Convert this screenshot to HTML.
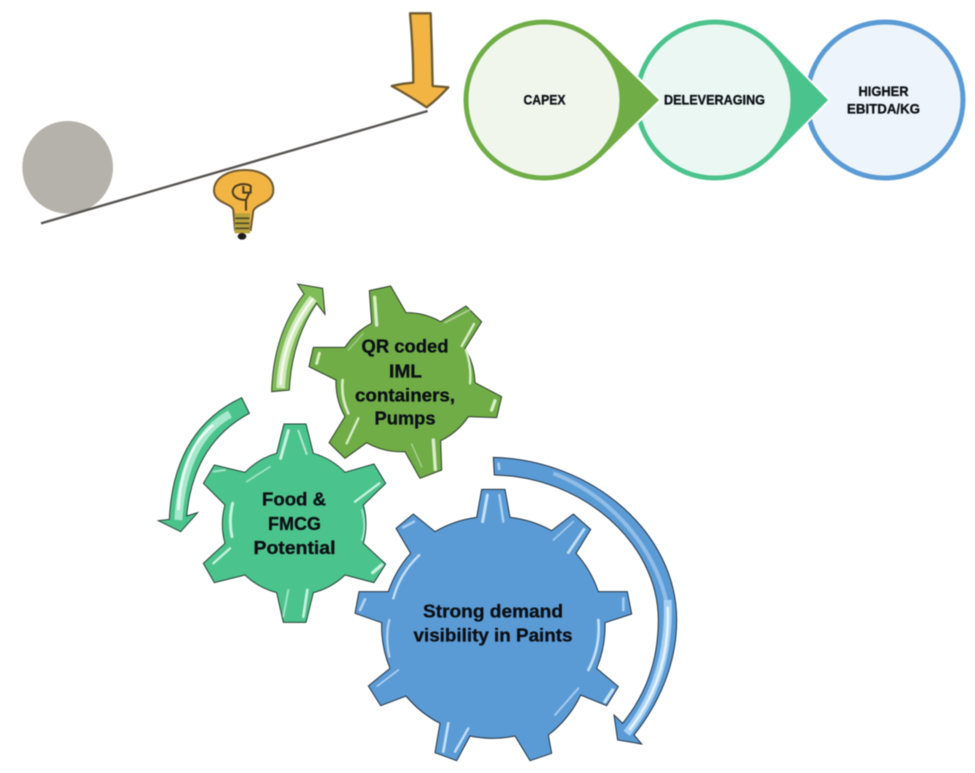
<!DOCTYPE html>
<html>
<head>
<meta charset="utf-8">
<style>
html,body{margin:0;padding:0;background:#fff;width:975px;height:773px;overflow:hidden}
svg{display:block;filter:blur(0.4px)}
text{font-family:"Liberation Sans",sans-serif;font-weight:bold;text-anchor:middle;fill:#0a0f14;stroke:#0a0f14;stroke-width:.3}
</style>
</head>
<body>
<svg width="975" height="773" viewBox="0 0 975 773" xmlns="http://www.w3.org/2000/svg">
<rect width="975" height="773" fill="#fff"/>

<!-- Seesaw illustration, drawn in 3x coordinates -->
<g transform="scale(0.33333)">
  <ellipse cx="203" cy="502" rx="136" ry="139" fill="#b5b2ab"/>
  <path d="M123,670 L1283,333" stroke="#55534f" stroke-width="7" fill="none"/>
  <path d="M1230,40 L1292,40 Q1296,150 1298,258 L1345,262 Q1310,300 1280,322 Q1225,285 1175,258 Q1210,250 1240,248 Q1240,150 1230,40 Z" fill="#f2b544" stroke="#6e5a30" stroke-width="7" stroke-linejoin="round"/>
  <path d="M700,632 C700,610 640,610 642,570 C644,530 690,510 735,510 C780,510 820,530 820,570 C820,610 770,610 760,632 L752,690 L705,690 Z" fill="#f2b544" stroke="#6e5a30" stroke-width="6"/>
  <rect x="704" y="640" width="46" height="60" fill="#b7a23c"/>
  <path d="M706,655 H748 M706,670 H748 M706,685 H748" stroke="#4a4a28" stroke-width="5"/>
  <ellipse cx="726" cy="709" rx="13" ry="10" fill="#1d1d1a"/>
  <path d="M738,632 L738,600 C700,600 690,575 705,560 C720,548 745,552 752,558 L752,578 L730,578 L730,558 M738,600 L748,578" fill="none" stroke="#4a3c20" stroke-width="6"/>
</g>

<!-- Process circles -->
<circle cx="885" cy="100" r="78" fill="#eef4fb" stroke="#5b9bd5" stroke-width="5"/>
<path d="M790,62 L828,100 L790,138" fill="none" stroke="#fff" stroke-width="4"/>
<circle cx="715" cy="100" r="78" fill="#ebf7f2" stroke="#4bc38c" stroke-width="5"/>
<path d="M771,42 L828,100 L771,158 Z" fill="#4bc38c"/>
<circle cx="715" cy="100" r="75.5" fill="#ebf7f2"/>
<path d="M620,61 L659,100 L620,139" fill="none" stroke="#fff" stroke-width="4"/>
<circle cx="544" cy="100" r="78" fill="#f0f6ec" stroke="#70ad47" stroke-width="5"/>
<path d="M600,42 L659,100 L600,158 Z" fill="#70ad47"/>
<circle cx="544" cy="100" r="75.5" fill="#f0f6ec"/>

<text x="544.5" y="104.5" font-size="14" textLength="42" lengthAdjust="spacingAndGlyphs">CAPEX</text>
<text x="714.5" y="104.5" font-size="14" textLength="101" lengthAdjust="spacingAndGlyphs">DELEVERAGING</text>
<text x="883.5" y="96" font-size="14" textLength="50" lengthAdjust="spacingAndGlyphs">HIGHER</text>
<text x="883.5" y="113.5" font-size="14" textLength="73" lengthAdjust="spacingAndGlyphs">EBITDA/KG</text>

<!-- Green and teal gears with arrows -->
<g transform="translate(150,270) scale(0.33333)">
  <path d="M365,365 Q370,190 462,72 L443,42 L518,55 L525,133 L500,100 Q425,210 418,360 Z" fill="#80bd58" stroke="#2f3f2a" stroke-width="3"/>
  <path d="M392,355 Q398,200 490,85" fill="none" stroke="#cfe8b8" stroke-width="26"/>
  <path d="M392,345 Q398,200 490,85" fill="none" stroke="#f4fbee" stroke-width="8"/>
  <path d="M275,383 Q70,480 58,748 L25,752 L92,785 L143,728 L110,738 Q130,520 298,430 Z" fill="#4bc38c" stroke="#1f3f33" stroke-width="3"/>
  <path d="M240,432 Q100,510 85,750" fill="none" stroke="#a6e8cc" stroke-width="24"/>
  <path d="M190,465 Q95,540 85,720" fill="none" stroke="#eafaf3" stroke-width="8"/>

  <path d="M658,62 L722,48 L768,128 A212,212 0 0 1 872,155 L948,108 L995,155 L945,235 A212,212 0 0 1 975,338 L1055,380 L1040,443 L955,440 A212,212 0 0 1 872,512 L875,600 L810,625 L765,545 A212,212 0 0 1 650,518 L585,565 L537,518 L585,440 A212,212 0 0 1 558,330 L477,290 L490,232 L585,232 A212,212 0 0 1 665,160 Z" fill="#70ad47" stroke="#2c3a26" stroke-width="3" stroke-linejoin="round"/>
  <g fill="none" stroke="#d8eec8" stroke-linecap="round">
    <path d="M680,165 L674,82" stroke-width="10"/>
    <path d="M885,158 L962,118" stroke-width="5" opacity=".6"/>
    <path d="M935,228 L972,162" stroke-width="7"/>
    <path d="M948,240 Q965,290 960,340" stroke-width="7"/>
    <path d="M1025,420 L1035,392" stroke-width="10"/>
    <path d="M850,510 L856,598" stroke-width="10"/>
    <path d="M785,522 L815,590" stroke-width="4" opacity=".6"/>
    <path d="M590,520 L625,445" stroke-width="7"/>
    <path d="M595,430 Q572,380 578,330" stroke-width="8"/>
    <path d="M500,280 L508,250" stroke-width="9"/>
    <path d="M595,240 L640,190" stroke-width="4" opacity=".5"/>
  </g>

  <path d="M402,462 L468,462 L490,550 A215,215 0 0 1 585,607 L672,582 L707,640 L640,705 A215,215 0 0 1 640,820 L707,882 L672,938 L585,915 A215,215 0 0 1 490,968 L468,1057 L400,1057 L380,968 A215,215 0 0 1 285,915 L193,938 L160,880 L225,820 A215,215 0 0 1 225,705 L160,640 L193,585 L285,607 A215,215 0 0 1 380,550 Z" fill="#4bc38c" stroke="#1f3f33" stroke-width="3" stroke-linejoin="round"/>
  <g fill="none" stroke="#c8f2df" stroke-linecap="round">
    <path d="M392,565 L415,482" stroke-width="9"/>
    <path d="M445,482 L470,552" stroke-width="6" opacity=".8"/>
    <path d="M290,635 L360,590" stroke-width="5" opacity=".7"/>
    <path d="M615,695 L688,640" stroke-width="7"/>
    <path d="M636,720 Q650,770 636,810" stroke-width="6" opacity=".7"/>
    <path d="M248,700 Q235,750 246,800" stroke-width="9"/>
    <path d="M190,880 L240,835" stroke-width="7"/>
    <path d="M668,908 L695,885" stroke-width="10"/>
    <path d="M400,1040 L415,960" stroke-width="6" opacity=".7"/>
    <path d="M460,1040 L472,960" stroke-width="8"/>
    <path d="M190,605 L225,600" stroke-width="6" opacity=".7"/>
  </g>
</g>

<text x="405" y="352.5" font-size="18.5" textLength="87" lengthAdjust="spacingAndGlyphs">QR coded</text>
<text x="405.5" y="377.5" font-size="18.5" textLength="33" lengthAdjust="spacingAndGlyphs">IML</text>
<text x="405" y="401.5" font-size="18.5" textLength="100" lengthAdjust="spacingAndGlyphs">containers,</text>
<text x="405" y="424.5" font-size="18.5" textLength="61" lengthAdjust="spacingAndGlyphs">Pumps</text>

<text x="294" y="505.5" font-size="18.5" textLength="64" lengthAdjust="spacingAndGlyphs">Food &amp;</text>
<text x="294.5" y="530" font-size="18.5" textLength="53" lengthAdjust="spacingAndGlyphs">FMCG</text>
<text x="294.5" y="554" font-size="18.5" textLength="82" lengthAdjust="spacingAndGlyphs">Potential</text>

<!-- Blue gear and arrow -->
<g transform="translate(340,440) scale(0.33333)">
  <path d="M460,52 C760,60 1010,280 1010,540 C1010,680 950,800 882,885 L905,912 L833,900 L822,825 L848,850 C920,760 955,660 955,540 C955,310 730,110 463,105 Z" fill="#5b9bd5" stroke="#1f2f3f" stroke-width="3"/>
  <path d="M640,100 C800,160 950,320 982,500" fill="none" stroke="#8fbde8" stroke-width="12"/>
  <path d="M983,480 C990,650 940,780 860,880" fill="none" stroke="#a6d0f2" stroke-width="24"/>
  <path d="M983,500 C990,650 945,770 868,870" fill="none" stroke="#e4f2fc" stroke-width="8"/>
  <path d="M475,68 L478,90" fill="none" stroke="#a8cdf0" stroke-width="8"/>

  <path d="M425,148 L495,148 L510,232 A332,332 0 0 1 635,272 L700,222 L752,268 L708,340 A332,332 0 0 1 775,455 L862,455 L875,522 L795,548 A332,332 0 0 1 770,685 L835,740 L800,797 L722,765 A332,332 0 0 1 625,885 L635,940 L570,962 L525,888 A332,332 0 0 1 390,888 L350,962 L285,938 L300,850 A332,332 0 0 1 198,768 L122,797 L85,738 L150,685 A332,332 0 0 1 125,548 L45,520 L57,455 L145,455 A332,332 0 0 1 212,340 L168,265 L220,222 L285,275 A332,332 0 0 1 410,232 Z" fill="#5b9bd5" stroke="#1f2f3f" stroke-width="3" stroke-linejoin="round"/>
  <g fill="none" stroke="#c4e0f7" stroke-linecap="round">
    <path d="M428,245 L442,165" stroke-width="9"/>
    <path d="M490,245 L478,165" stroke-width="7" opacity=".8"/>
    <path d="M640,300 L700,245" stroke-width="5" opacity=".7"/>
    <path d="M685,338 L732,268" stroke-width="8"/>
    <path d="M160,475 Q180,400 238,345" stroke-width="7"/>
    <path d="M775,540 Q782,620 745,690" stroke-width="8"/>
    <path d="M190,262 L222,245" stroke-width="8" opacity=".7"/>
    <path d="M112,738 L175,690" stroke-width="5" opacity=".8"/>
    <path d="M715,745 L645,825" stroke-width="6" opacity=".7"/>
    <path d="M795,785 L818,750" stroke-width="10"/>
    <path d="M310,935 L325,850" stroke-width="8"/>
    <path d="M345,935 L385,865" stroke-width="7"/>
    <path d="M60,510 L75,478" stroke-width="8" opacity=".8"/>
    <path d="M850,510 L850,475" stroke-width="8" opacity=".7"/>
    <path d="M148,540 Q135,590 148,650" stroke-width="7" opacity=".8"/>
  </g>
</g>

<text x="493" y="617.5" font-size="18.5" textLength="140" lengthAdjust="spacingAndGlyphs">Strong demand</text>
<text x="493" y="641.5" font-size="18.5" textLength="159" lengthAdjust="spacingAndGlyphs">visibility in Paints</text>
</svg>
</body>
</html>
